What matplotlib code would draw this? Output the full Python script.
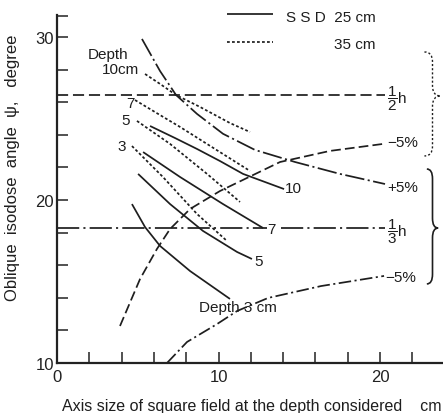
import matplotlib
matplotlib.use("Agg")
import matplotlib.pyplot as plt
from matplotlib.path import Path
from matplotlib.patches import PathPatch

plt.rcParams['lines.scale_dashes'] = False
FONT = ['Liberation Sans', 'DejaVu Sans']
plt.rcParams['font.family'] = FONT
plt.rcParams['mathtext.fontset'] = 'custom'
plt.rcParams['mathtext.rm'] = 'Liberation Sans'

# ---- data: oblique isodose angle (degree) vs axis size of square field (cm) ----
# SSD 25 cm curves, by depth
d10_25_x = [5.76, 7.31, 8.67, 10.09, 11.52, 14.06]
d10_25_y = [24.54, 23.80, 23.13, 22.39, 21.60, 20.67]
d7_25_x = [5.33, 7.62, 10.28, 12.76]
d7_25_y = [22.94, 21.41, 19.75, 18.28]
d5_25_x = [5.02, 7.00, 9.04, 11.15, 12.07]
d5_25_y = [21.60, 19.75, 18.10, 16.81, 16.38]
d3_25_x = [4.64, 5.45, 6.38, 8.24, 10.71]
d3_25_y = [19.75, 18.34, 17.18, 15.64, 13.93]

# SSD 35 cm curves, by depth
d10_35_x = [5.45, 6.38, 7.37, 8.85, 10.71, 11.95]
d10_35_y = [27.73, 27.12, 26.44, 25.71, 24.72, 24.17]
d7_35_x = [4.83, 6.38, 7.62, 9.78, 11.95]
d7_35_y = [26.13, 25.21, 24.48, 23.13, 21.78]
d5_35_x = [4.95, 7.00, 9.29, 11.33]
d5_35_y = [24.85, 23.44, 21.60, 19.88]
d3_35_x = [4.64, 6.56, 8.67, 10.53]
d3_35_y = [23.31, 21.41, 19.14, 17.48]

# reference levels and tolerance bounds
half_h = 26.44
third_h = 18.28
level_x = [0.0, 20.3]
plus5_x = [5.26, 6.38, 7.37, 8.67, 10.28, 12.26, 14.74, 17.52, 20.31]
plus5_y = [29.88, 27.91, 26.44, 25.28, 24.06, 23.07, 22.33, 21.60, 20.98]
minus5_hi_x = [3.90, 5.14, 6.19, 7.00, 8.24, 10.09, 13.81, 16.90, 20.19]
minus5_hi_y = [12.27, 15.15, 17.00, 18.22, 19.45, 20.55, 22.33, 23.01, 23.44]
minus5_lo_x = [6.81, 8.05, 9.91, 11.15, 13.07, 16.35, 20.25]
minus5_lo_y = [10.00, 11.29, 12.39, 13.19, 13.99, 14.72, 15.34]

x_ticks = [0, 10, 20]
y_ticks = [10, 20, 30]

# ---- figure ----
fig = plt.figure(figsize=(4.43, 4.14), dpi=100)
ax = fig.add_axes([0.1287, 0.1208, 0.8713, 0.8406])
ax.set_xlim(0, 23.9)
ax.set_ylim(10, 31.35)

for s in ['top', 'right']:
    ax.spines[s].set_visible(False)
for s in ['left', 'bottom']:
    ax.spines[s].set_linewidth(1.6)
    ax.spines[s].set_color('#222222')

ax.set_xticks(x_ticks)
ax.set_yticks(y_ticks)
ax.set_xticks([v for v in range(0, 24, 2) if v not in x_ticks], minor=True)
ax.set_yticks([v for v in range(10, 31, 2) if v not in y_ticks] + [31.3], minor=True)
ax.tick_params(which='both', direction='in', length=8, width=1.1, color='#222222',
               labelsize=12, labelcolor='#222222', pad=4)
ax.tick_params(axis='y', which='major', pad=2)

ink = '#1e1e1e'
LW = 1.25

solid_kw = dict(color=ink, lw=LW, solid_capstyle='butt')
dot_kw = dict(color=ink, lw=LW, dashes=(2.0, 1.6))

for xs, ys in [(d10_25_x, d10_25_y), (d7_25_x, d7_25_y), (d5_25_x, d5_25_y), (d3_25_x, d3_25_y)]:
    ax.plot(xs, ys, **solid_kw)
for xs, ys in [(d10_35_x, d10_35_y), (d7_35_x, d7_35_y), (d5_35_x, d5_35_y), (d3_35_x, d3_35_y)]:
    ax.plot(xs, ys, **dot_kw)

ax.plot(level_x, [half_h, half_h], color=ink, lw=LW, dashes=(8, 3.5))
ax.plot([level_x[0], 13.0], [third_h, third_h], color=ink, lw=LW, dashes=(16, 3, 1.5, 3))
ax.plot([13.9, level_x[1]], [third_h, third_h], color=ink, lw=LW, dashes=(16, 3, 1.5, 3))

ax.plot(plus5_x, plus5_y, color=ink, lw=LW, dashes=(14, 2.5, 1.5, 2.5))
ax.plot(minus5_hi_x, minus5_hi_y, color=ink, lw=LW, dashes=(7, 3))
ax.plot(minus5_lo_x, minus5_lo_y, color=ink, lw=LW, dashes=(9, 2.5, 1.5, 2.5))

# curve labels
tkw = dict(color=ink, fontsize=11, ha='center', va='center')
ax.text(3.16, 28.96, 'Depth', **tkw)
ax.text(3.96, 28.04, '10cm', **tkw)
ax.text(4.52, 25.95, '7', **tkw)
ax.text(4.27, 24.91, '5', **tkw)
ax.text(4.02, 23.31, '3', **tkw)
ax.text(14.61, 20.74, '10', **tkw)
ax.text(13.25, 18.22, '7', **tkw)
ax.text(12.51, 16.26, '5', **tkw)
ax.text(11.2, 13.42, 'Depth 3 cm', **tkw)

lkw = dict(color=ink, fontsize=11, ha='left', va='center')
ax.text(20.45, 26.25, r'$\dfrac{1}{2}$h', **lkw)
ax.text(20.45, 18.15, r'$\dfrac{1}{3}$h', **lkw)
ax.text(20.45, 23.56, '−5%', **lkw)
ax.text(20.45, 20.80, '+5%', **lkw)
ax.text(20.35, 15.28, '−5%', **lkw)

# legend
ax.plot([10.5, 13.37], [31.41, 31.41], clip_on=False, **solid_kw)
ax.plot([10.5, 13.37], [29.69, 29.69], clip_on=False, **dot_kw)
ax.text(19.75, 31.23, 'S S D  25 cm', color=ink, fontsize=11, ha='right', va='center')
ax.text(19.75, 29.57, '35 cm', color=ink, fontsize=11, ha='right', va='center')


def brace(x0, x1, y0, y1, ym, d=0.6, **kw):
    """Right-pointing curly brace from y0 (top) to y1 (bottom), tip at ym."""
    xm = (x0 + x1) / 2
    verts = [(x0, y0), (xm, y0), (xm, y0 - d),
             (xm, ym + d),
             (xm, ym), (x1, ym),
             (xm, ym), (xm, ym - d),
             (xm, y1 + d),
             (xm, y1), (x0, y1)]
    codes = [Path.MOVETO, Path.CURVE3, Path.CURVE3,
             Path.LINETO,
             Path.CURVE3, Path.CURVE3,
             Path.CURVE3, Path.CURVE3,
             Path.LINETO,
             Path.CURVE3, Path.CURVE3]
    patch = PathPatch(Path(verts, codes), fill=False, clip_on=False, **kw)
    ax.add_patch(patch)


brace(22.75, 23.75, 29.08, 22.70, 26.38, ec=ink, lw=1.0, linestyle=(0, (1.5, 1.5)))
brace(22.9, 23.6, 21.9, 14.85, 18.28, ec=ink, lw=1.2)

ax.set_xlabel('Axis size of square field at the depth considered    cm',
              fontsize=11.5, color=ink)
ax.set_ylabel('Oblique  isodose  angle  ψ,   degree', fontsize=12, color=ink)
ax.xaxis.set_label_coords(0.505, -0.1)
ax.yaxis.set_label_coords(-0.095, 0.565)

fig.savefig('out.png', dpi=100)
